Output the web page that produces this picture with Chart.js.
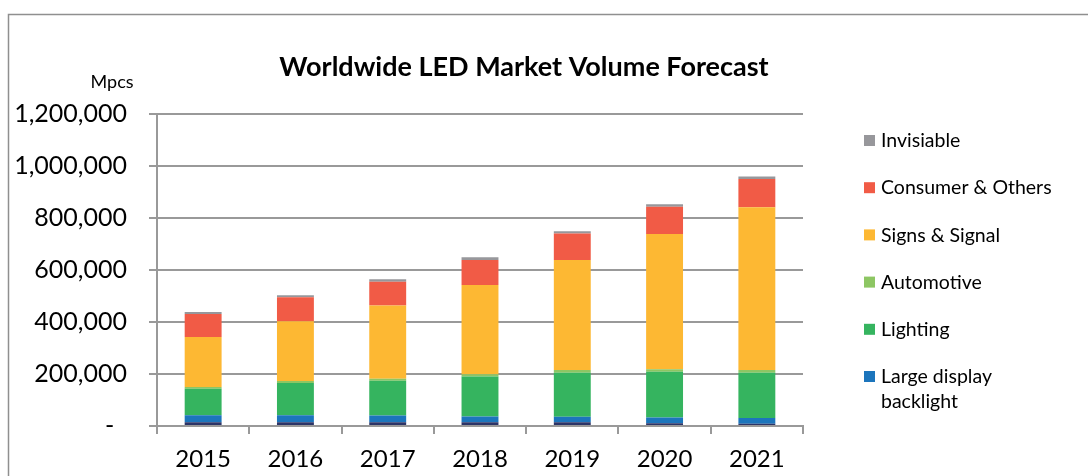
<!DOCTYPE html>
<html>
<head>
<meta charset="utf-8">
<script src="https://cdn.jsdelivr.net/npm/chart.js@4.4.1/dist/chart.umd.min.js"></script>
<style>
    html, body { margin: 0; padding: 0; background: #fff; }
    #wrap { width: 1088px; height: 476px; }
</style>
</head>
<body>
<div id="wrap"><canvas id="ledChart" width="1088" height="476"></canvas></div>
<script>
// Worldwide LED market volume (Mpcs), stacked by application
const years = ['2015', '2016', '2017', '2018', '2019', '2020', '2021'];
const smallBacklight = [14000, 14000, 14000, 14000, 14000, 11000, 9000];
const largeBacklight = [27000, 27000, 26000, 23000, 22000, 22000, 22000];
const lighting = [102000, 124000, 134000, 153000, 169000, 176000, 174000];
const automotive = [7000, 8000, 8000, 9000, 10000, 9000, 10000];
const signs = [192000, 230000, 281000, 343000, 423000, 520000, 626000];
const consumer = [89000, 92000, 92000, 96000, 102000, 105000, 109000];
const invisible = [7000, 8000, 9000, 11000, 9000, 10000, 10000];
const yTicks = [0, 200000, 400000, 600000, 800000, 1000000, 1200000];

const chartTitle = 'Worldwide LED Market Volume Forecast';
const unitLabel = 'Mpcs';
const gridColor = '#999999';

// frame, title, unit label and the legend on the right
const decorPlugin = {
    id: 'decor',
    beforeDraw(chart) {
        const ctx = chart.ctx;
        ctx.save();
        ctx.fillStyle = '#fff';
        ctx.fillRect(0, 0, chart.width, chart.height);
        ctx.strokeStyle = '#8f8f8f';
        ctx.lineWidth = 1.5;
        ctx.beginPath();
        ctx.moveTo(8.5, chart.height);
        ctx.lineTo(8.5, 14.5);
        ctx.lineTo(chart.width, 14.5);
        ctx.stroke();
        ctx.restore();
    },
    afterDraw(chart) {
        const ctx = chart.ctx;
        ctx.save();
        ctx.fillStyle = '#000';
        ctx.textBaseline = 'middle';
        ctx.textAlign = 'center';
        ctx.font = 'bold 27px Lato';
        ctx.fillText(chartTitle, 524, 67);
        ctx.font = '18px Lato';
        ctx.fillText(unitLabel, 112, 82);

        // legend, top of the stack first
        ctx.textAlign = 'left';
        ctx.font = '19.5px Lato';
        let y = 141;
        const sets = chart.data.datasets.slice().reverse();
        sets.forEach(ds => {
            if (ds.hideInLegend) return;
            ctx.fillStyle = ds.backgroundColor;
            ctx.fillRect(864, y - 6, 11, 11);
            ctx.fillStyle = '#000';
            ds.label.split('\n').forEach((line, i) => {
                ctx.fillText(line, 881, y + i * 25);
            });
            y += 47.2;
        });
        ctx.restore();
    }
};

const ctx = document.getElementById('ledChart').getContext('2d');
new Chart(ctx, {
    type: 'bar',
    data: {
        labels: years,
        datasets: [
            { label: 'Small display backlight', data: smallBacklight, backgroundColor: '#2c3467', hideInLegend: true },
            { label: 'Large display\nbacklight', data: largeBacklight, backgroundColor: '#1c75bc' },
            { label: 'Lighting', data: lighting, backgroundColor: '#35b45f' },
            { label: 'Automotive', data: automotive, backgroundColor: '#8dc663' },
            { label: 'Signs & Signal', data: signs, backgroundColor: '#fdb833' },
            { label: 'Consumer & Others', data: consumer, backgroundColor: '#f15b46' },
            { label: 'Invisiable', data: invisible, backgroundColor: '#97979b' }
        ]
    },
    options: {
        responsive: false,
        animation: false,
        devicePixelRatio: 1,
        layout: { padding: { top: 114, right: 285, bottom: 0, left: 0 } },
        datasets: { bar: { barPercentage: 0.4, categoryPercentage: 1.0, borderWidth: 0 } },
        plugins: {
            legend: { display: false },
            title: { display: false },
            tooltip: { enabled: false }
        },
        scales: {
            x: {
                stacked: true,
                afterFit(scale) { scale.height = 50; },
                grid: {
                    offset: true,
                    drawOnChartArea: false,
                    drawTicks: true,
                    tickLength: 8,
                    color: gridColor,
                    lineWidth: 2
                },
                border: { color: gridColor, width: 2 },
                ticks: { color: '#000', font: { family: 'Lato', size: 24 }, padding: 11 }
            },
            y: {
                stacked: true,
                min: 0,
                max: 1200000,
                afterFit(scale) { scale.width = 157; },
                afterBuildTicks(scale) {
                    scale.ticks = yTicks.map(v => ({ value: v }));
                },
                grid: {
                    color: gridColor,
                    lineWidth: 2,
                    drawTicks: true,
                    tickLength: 8
                },
                border: { color: gridColor, width: 2 },
                ticks: {
                    color: '#000',
                    font: { family: 'Lato', size: 25 },
                    padding: 22,
                    callback: v => v === 0 ? '-  ' : v.toLocaleString('en-US')
                }
            }
        }
    },
    plugins: [decorPlugin]
});
</script>
</body>
</html>
